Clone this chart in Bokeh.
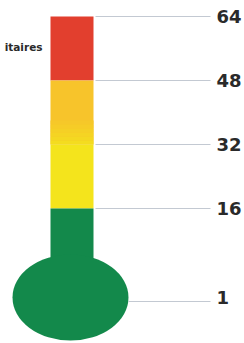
from bokeh.plotting import figure
from bokeh.models import Range1d, ColumnDataSource
from bokeh.embed import file_html
from bokeh.resources import INLINE
from bokeh.core.properties import value

# Data
levels = [64, 48, 32, 16]          # band upper bounds (top to bottom)
band_bottoms = [48, 32, 16]
band_colors = ["#e23f2e", "#f7c42b", "#f4e41c"]
tick_labels = ["64", "48", "32", "16", "1"]
side_text = "itaires"

p = figure(width=244, height=343, output_backend="svg", toolbar_location=None,
           x_range=Range1d(0, 244), y_range=Range1d(-17.75, 68),
           min_border=0, outline_line_color=None)
p.axis.visible = False
p.grid.visible = False
p.background_fill_color = "white"
p.border_fill_color = "white"

stem_l, stem_r = 50, 93
bulb_x, bulb_y, bulb_w, bulb_h = 70, -6.25, 116, 21.5

# coloured bands
p.quad(left=stem_l, right=stem_r, top=levels[:3], bottom=band_bottoms,
       fill_color=band_colors, line_color=None)
# soften orange -> yellow transition in the lower part of the orange band
steps = 6
lo, hi = band_bottoms[1], band_bottoms[1] + 6
c0 = (0xf7, 0xc4, 0x2b)
c1 = (0xf4, 0xe0, 0x1e)
tops, bots, cols = [], [], []
for i in range(steps):
    f = (i + 1) / (steps + 1)
    tops.append(hi - (hi - lo) * i / steps)
    bots.append(hi - (hi - lo) * (i + 1) / steps)
    cols.append("#%02x%02x%02x" % tuple(int(a + (b - a) * f) for a, b in zip(c0, c1)))
p.quad(left=stem_l, right=stem_r, top=tops, bottom=bots, fill_color=cols, line_color=None)
# green stem and bulb
p.quad(left=stem_l, right=stem_r, top=16, bottom=bulb_y, fill_color="#13894b", line_color=None)
p.ellipse(x=bulb_x, y=bulb_y, width=bulb_w, height=bulb_h, fill_color="#13894b", line_color=None)

# leader lines
p.segment(x0=[stem_r + 2] * 4, y0=levels, x1=[210] * 4, y1=levels,
          line_color="#c3c9d2", line_width=1)
p.segment(x0=[bulb_x + bulb_w / 2], y0=[bulb_y - 1], x1=[210], y1=[bulb_y - 1],
          line_color="#c3c9d2", line_width=1)

# labels
src = ColumnDataSource(dict(y=levels + [bulb_y], t=tick_labels))
p.text(x=216, y="y", text="t", source=src, text_font=value("DejaVu Sans"),
       text_font_style="bold", text_font_size="18px", text_color="#2a2a2a",
       text_baseline="middle", text_align="left")

p.text(x=[42], y=[16 - (46 - 208) / 4], text=[side_text], text_font=value("DejaVu Sans"),
       text_font_style="bold", text_font_size="10.5px", text_color="#2a2a2a",
       text_baseline="middle", text_align="right")

open("out.html", "w").write(file_html(p, INLINE))
